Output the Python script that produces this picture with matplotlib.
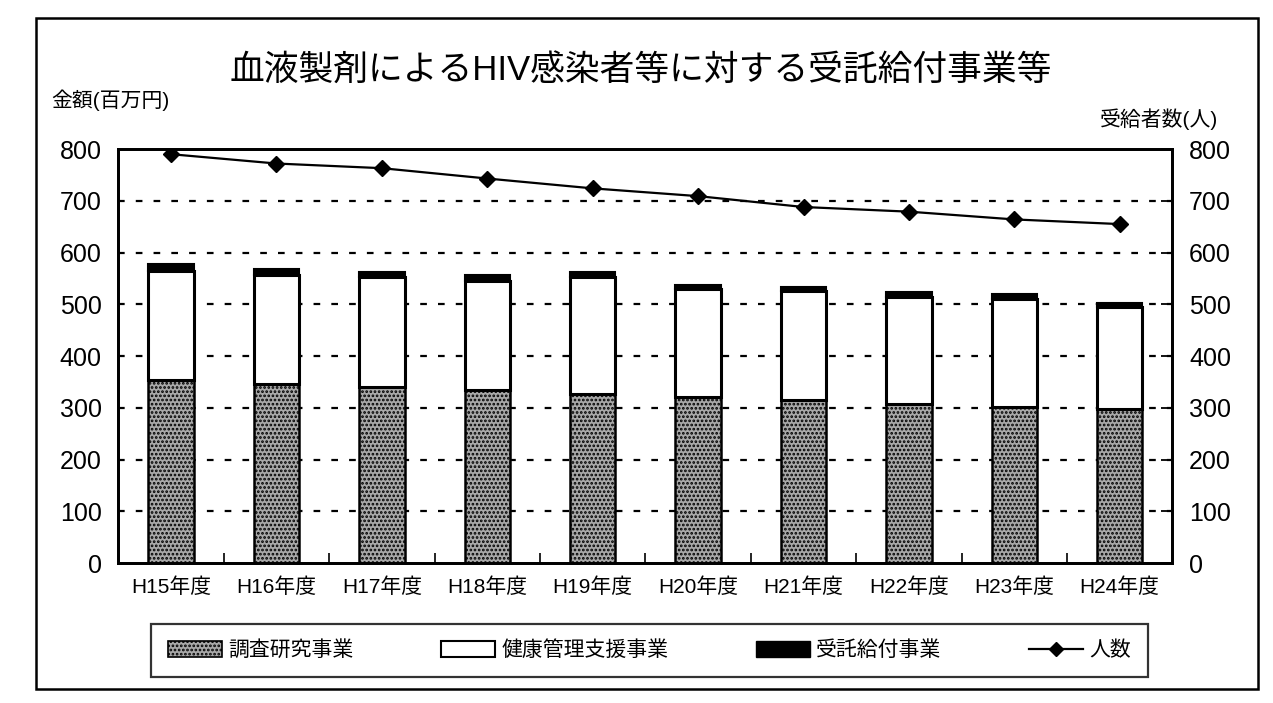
import numpy as np
import matplotlib
matplotlib.use('Agg')
import matplotlib.pyplot as plt
from matplotlib.lines import Line2D
from matplotlib.patches import Patch, Rectangle

plt.rcParams['font.family'] = ['Liberation Sans', 'Noto Sans CJK JP']
plt.rcParams['hatch.linewidth'] = 1.3

# data
years = ['H15年度', 'H16年度', 'H17年度', 'H18年度', 'H19年度',
         'H20年度', 'H21年度', 'H22年度', 'H23年度', 'H24年度']
study = [353, 347, 341, 334, 327, 320, 315, 307, 301, 297]      # 調査研究事業
health = [212, 209, 211, 211, 225, 210, 210, 208, 210, 198]     # 健康管理支援事業
benefit = [12, 12, 11, 11, 11, 8, 8, 8, 8, 8]                   # 受託給付事業
people = [790, 772, 763, 743, 724, 709, 688, 679, 664, 655]     # 人数

fig = plt.figure(figsize=(12.73, 7.03), dpi=100)
ax = fig.add_axes([0.093, 0.199, 0.828, 0.589])
ax2 = ax.twinx()

x = np.arange(len(years))
w = 0.43
study = np.array(study)
health = np.array(health)
benefit = np.array(benefit)

ax.bar(x, study, w, color='#a8a8a8', edgecolor='black', hatch='....', lw=1.8, zorder=3)
ax.bar(x, health, w, bottom=study, color='white', edgecolor='black', lw=2.2, zorder=3)
ax.bar(x, benefit, w, bottom=study + health, color='black', edgecolor='black', lw=1.5, zorder=3)

ax.set_ylim(0, 800)
ax.set_xlim(-0.5, len(years) - 0.5)
ax.set_yticks(np.arange(0, 801, 100))
for v in range(100, 800, 100):
    ax.axhline(v, color='black', lw=1.6, ls=(0, (3, 5)), zorder=1)

ax.set_xticks(x)
ax.set_xticklabels(years, fontsize=15)
ax.set_xticks(np.arange(0.5, len(years) - 0.5, 1), minor=True)
ax.tick_params(axis='x', which='major', length=0, pad=10)
ax.tick_params(axis='x', which='minor', direction='in', length=7, width=1.2)
ax.tick_params(axis='y', length=0, labelsize=18, pad=12)

ax2.plot(x, people, color='black', lw=1.6, marker='D', ms=8, zorder=5)
ax2.set_ylim(0, 800)
ax2.set_yticks(np.arange(0, 801, 100))
ax2.tick_params(axis='y', direction='in', length=8, width=1.3, labelsize=18, pad=12)

for a in (ax, ax2):
    for s in a.spines.values():
        s.set_linewidth(2)
ax2.set_zorder(ax.get_zorder() + 1)
ax2.patch.set_visible(False)

fig.text(0.503, 0.9, '血液製剤によるHIV感染者等に対する受託給付事業等',
         ha='center', va='center', fontsize=25)
fig.text(0.04, 0.858, '金額(百万円)', ha='left', va='center', fontsize=15)
fig.text(0.957, 0.83, '受給者数(人)', ha='right', va='center', fontsize=15)

handles = [
    Patch(facecolor='#a8a8a8', edgecolor='black', hatch='....', lw=1.2),
    Patch(facecolor='white', edgecolor='black', lw=1.5),
    Patch(facecolor='black', edgecolor='black'),
    Line2D([], [], color='black', lw=1.6, marker='D', ms=7),
]
labels = ['調査研究事業', '健康管理支援事業', '受託給付事業', '人数']
leg = fig.legend(handles, labels, loc='center', bbox_to_anchor=(0.51, 0.075),
                 ncol=4, fontsize=15, frameon=True, fancybox=False,
                 handlelength=2.6, handleheight=0.8, handletextpad=0.3,
                 columnspacing=4.2, borderpad=0.8, edgecolor='black')
leg.get_frame().set_linewidth(1.6)

# outer border of the scanned chart
fig.add_artist(Rectangle((0.028, 0.02), 0.96, 0.955, transform=fig.transFigure,
                         fill=False, edgecolor='black', lw=1.8))

fig.savefig('out.png', dpi=100, facecolor='white')
